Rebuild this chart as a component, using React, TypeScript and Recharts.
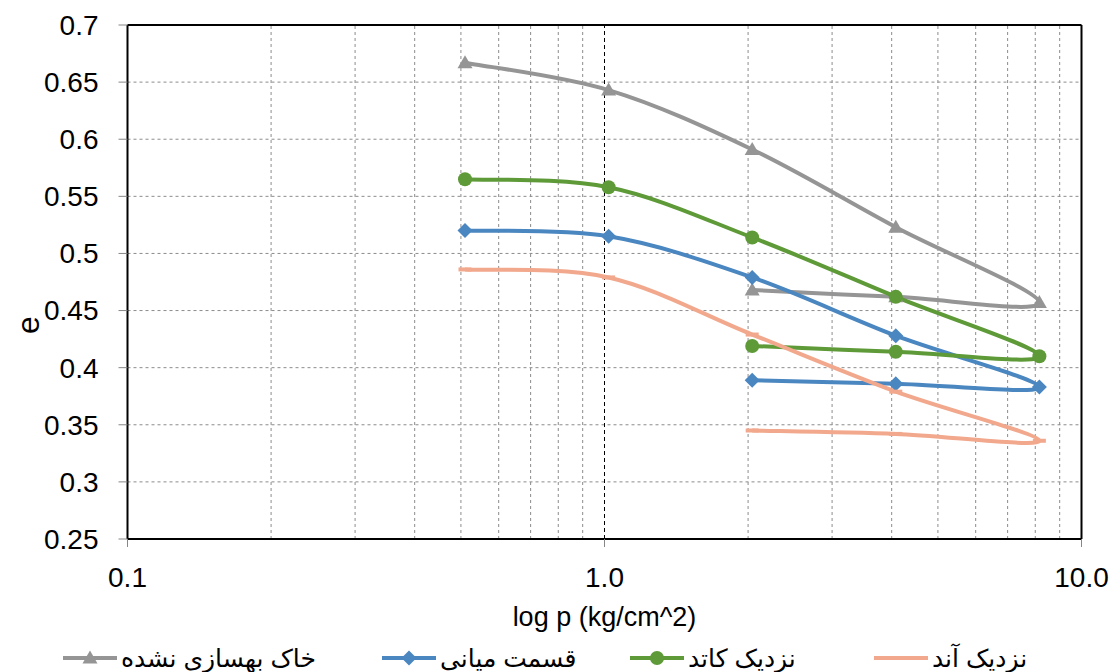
import React from "react";
import { LineChart, Line, XAxis, YAxis, CartesianGrid, ReferenceLine } from "recharts";

// pressure steps (load 0.5 -> 8, then unload back to 2), kg/cm^2
const pressures = [0.51, 1.02, 2.04, 4.08, 8.16, 4.08, 2.04];

const untreated = [0.667, 0.643, 0.591, 0.523, 0.457, 0.462, 0.468];
const middle = [0.52, 0.515, 0.479, 0.428, 0.383, 0.386, 0.389];
const cathode = [0.565, 0.558, 0.514, 0.462, 0.41, 0.414, 0.419];
const anode = [0.486, 0.479, 0.429, 0.379, 0.336, 0.342, 0.345];

const xTicks = [0.1, 1, 10];
const yTicks = [0.25, 0.3, 0.35, 0.4, 0.45, 0.5, 0.55, 0.6, 0.65, 0.7];
const minorX = [0.2, 0.3, 0.4, 0.5, 0.6, 0.7, 0.8, 0.9, 2, 3, 4, 5, 6, 7, 8, 9];

const GRAY = "#959595";
const BLUE = "#4a86c0";
const GREEN = "#5e9a38";
const ORANGE = "#f2a88c";

const FONT = "'Liberation Sans', 'DejaVu Sans', sans-serif";

// Excel-like smoothing: catmull-rom through every point, path order kept
function excelSmooth(context: any) {
  let pts: number[][] = [];
  return {
    areaStart() {},
    areaEnd() {},
    lineStart() {
      pts = [];
    },
    point(x: number, y: number) {
      pts.push([+x, +y]);
    },
    lineEnd() {
      if (!pts.length) return;
      context.moveTo(pts[0][0], pts[0][1]);
      for (let i = 0; i < pts.length - 1; i++) {
        const p0 = pts[Math.max(i - 1, 0)];
        const p1 = pts[i];
        const p2 = pts[i + 1];
        const p3 = pts[Math.min(i + 2, pts.length - 1)];
        context.bezierCurveTo(
          p1[0] + (p2[0] - p0[0]) / 6,
          p1[1] + (p2[1] - p0[1]) / 6,
          p2[0] - (p3[0] - p1[0]) / 6,
          p2[1] - (p3[1] - p1[1]) / 6,
          p2[0],
          p2[1]
        );
      }
    },
  };
}

type Shape = "triangle" | "diamond" | "circle" | "dash";

function Marker({ cx, cy, shape, color }: { cx: number; cy: number; shape: Shape; color: string }) {
  if (shape === "triangle")
    return <path d={`M${cx},${cy - 7.5} L${cx + 7.5},${cy + 5.5} L${cx - 7.5},${cy + 5.5} Z`} fill={color} />;
  if (shape === "diamond")
    return <path d={`M${cx},${cy - 7.5} L${cx + 7.5},${cy} L${cx},${cy + 7.5} L${cx - 7.5},${cy} Z`} fill={color} />;
  if (shape === "circle") return <circle cx={cx} cy={cy} r={7} fill={color} />;
  return <rect x={cx - 6.5} y={cy - 2} width={13} height={4} fill={color} />;
}

const series = [
  { name: "خاک بهسازی نشده", values: untreated, color: GRAY, shape: "triangle" as Shape },
  { name: "قسمت میانی", values: middle, color: BLUE, shape: "diamond" as Shape },
  { name: "نزدیک کاتد", values: cathode, color: GREEN, shape: "circle" as Shape },
  { name: "نزدیک آند", values: anode, color: ORANGE, shape: "dash" as Shape },
];

// where each legend entry starts on the page
const legendLeft = [63, 382, 630, 874];

function LegendIcon({ color, shape }: { color: string; shape: Shape }) {
  return (
    <svg width={54} height={20} style={{ display: "block" }}>
      <line x1={0} y1={10} x2={54} y2={10} stroke={color} strokeWidth={4} />
      {shape !== "dash" && <Marker cx={27} cy={10} shape={shape} color={color} />}
    </svg>
  );
}

export default function App() {
  return (
    <div style={{ position: "absolute", left: 0, top: 0, width: 1113, height: 672, background: "#fff" }}>
      <LineChart width={1113} height={672} margin={{ top: 25, right: 31.5, left: 7.5, bottom: 43 }}>
        <CartesianGrid vertical={false} stroke="#8c8c8c" strokeDasharray="3 3" />
        {minorX.map((v) => (
          <ReferenceLine key={v} x={v} stroke="#8c8c8c" strokeDasharray="3 3" />
        ))}
        <ReferenceLine x={1} stroke="#000" strokeDasharray="4 3" />
        <ReferenceLine y={0.7} stroke="#000" strokeWidth={2} />
        <ReferenceLine x={10} stroke="#000" strokeWidth={2} />
        <XAxis
          dataKey="p"
          type="number"
          scale="log"
          domain={[0.1, 10]}
          ticks={xTicks}
          allowDataOverflow
          height={90}
          tickSize={8}
          tickMargin={20}
          tickFormatter={(v: number) => v.toFixed(1)}
          tick={{ fill: "#000", fontSize: 28, fontFamily: FONT }}
          axisLine={{ stroke: "#000", strokeWidth: 2 }}
          tickLine={{ stroke: "#868686" }}
          label={{
            value: "log p (kg/cm^2)",
            position: "insideBottom",
            offset: 3,
            style: { fill: "#000", fontSize: 27, fontFamily: FONT },
          }}
        />
        <YAxis
          type="number"
          domain={[0.25, 0.7]}
          ticks={yTicks}
          width={120}
          tickSize={9}
          tickMargin={20}
          tick={{ fill: "#000", fontSize: 28, fontFamily: FONT }}
          axisLine={{ stroke: "#000", strokeWidth: 2 }}
          tickLine={{ stroke: "#868686" }}
        />
        {series.map((s) => (
          <Line
            key={s.name}
            data={pressures.map((p, i) => ({ p, e: s.values[i] }))}
            dataKey="e"
            type={excelSmooth as any}
            stroke={s.color}
            strokeWidth={4}
            isAnimationActive={false}
            activeDot={false}
            dot={(props: any) => (
              <Marker key={props.index} cx={props.cx} cy={props.cy} shape={s.shape} color={s.color} />
            )}
          />
        ))}
      </LineChart>
      <div
        style={{
          position: "absolute",
          left: 19,
          top: 309,
          transform: "rotate(-90deg)",
          fontFamily: FONT,
          fontSize: 32,
          lineHeight: "32px",
          color: "#000",
        }}
      >
        e
      </div>
      {series.map((s, i) => (
        <div
          key={s.name}
          style={{
            position: "absolute",
            left: legendLeft[i],
            top: 643,
            height: 30,
            display: "flex",
            alignItems: "center",
            gap: 4,
            fontFamily: FONT,
            fontSize: 25,
            color: "#000",
            whiteSpace: "nowrap",
          }}
        >
          <LegendIcon color={s.color} shape={s.shape} />
          <span dir="rtl">{s.name}</span>
        </div>
      ))}
    </div>
  );
}
